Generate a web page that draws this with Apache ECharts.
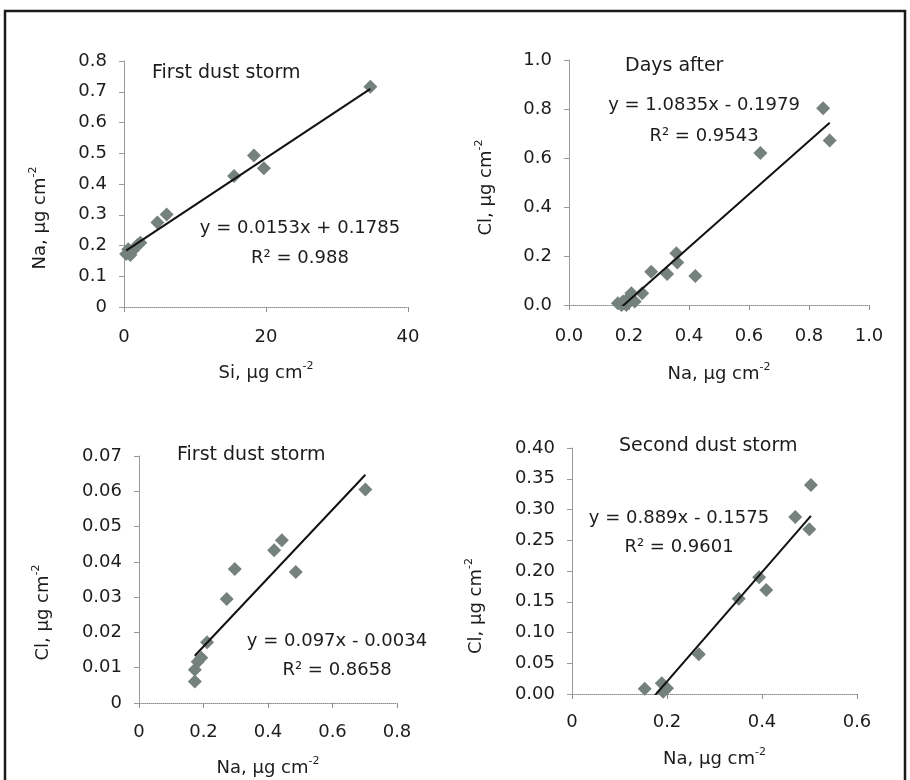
<!DOCTYPE html>
<html>
<head>
<meta charset="utf-8">
<script src="https://cdn.jsdelivr.net/npm/echarts@6/dist/echarts.min.js"></script>
<style>
  html, body { margin: 0; padding: 0; background: #fff; }
  #chart { width: 910px; height: 780px; }
</style>
</head>
<body>
<div id="chart"></div>
<script>
// ---- Panel 1: first dust storm, Na vs Si ----
const siFirst  = [0.3, 0.6, 0.9, 1.3, 1.9, 2.3, 4.7, 6.0, 15.5, 18.3, 19.7, 34.7];
const naVsSi   = [0.172, 0.188, 0.169, 0.185, 0.202, 0.209, 0.275, 0.301, 0.426, 0.493, 0.451, 0.716];

// ---- Panel 2: days after, Cl vs Na ----
const naDays   = [0.163, 0.175, 0.180, 0.191, 0.197, 0.208, 0.219, 0.244, 0.274, 0.327, 0.358, 0.361, 0.421, 0.638, 0.847, 0.869];
const clDays   = [0.007, 0.000, 0.014, 0.000, 0.027, 0.048, 0.014, 0.048, 0.136, 0.127, 0.211, 0.173, 0.118, 0.620, 0.803, 0.671];

// ---- Panel 3: first dust storm, Cl vs Na ----
const naFirst  = [0.173, 0.173, 0.182, 0.193, 0.211, 0.272, 0.297, 0.419, 0.443, 0.486, 0.702];
const clFirst  = [0.0061, 0.0094, 0.0117, 0.0128, 0.0172, 0.0295, 0.0380, 0.0433, 0.0461, 0.0371, 0.0605];

// ---- Panel 4: second dust storm, Cl vs Na ----
const naSecond = [0.153, 0.189, 0.192, 0.200, 0.267, 0.351, 0.394, 0.409, 0.470, 0.4996, 0.503];
const clSecond = [0.0087, 0.0174, 0.0037, 0.0093, 0.0646, 0.155, 0.190, 0.169, 0.288, 0.268, 0.340];

// Linear fits (slope, intercept, R²), one per panel
const fitSlopes     = [0.0153, 1.0835, 0.097, 0.889];
const fitIntercepts = [0.1785, -0.1979, -0.0034, -0.1575];
const fitSlopeText  = ['0.0153', '1.0835', '0.097', '0.889'];
const fitInterText  = ['+ 0.1785', '- 0.1979', '- 0.0034', '- 0.1575'];
const fitR2Text     = ['0.988', '0.9543', '0.8658', '0.9601'];

const panelTitles = ['First dust storm', 'Days after', 'First dust storm', 'Second dust storm'];

// Tick labels per axis
const xTicks1 = ['0', '20', '40'];
const yTicks1 = ['0', '0.1', '0.2', '0.3', '0.4', '0.5', '0.6', '0.7', '0.8'];
const xTicks2 = ['0.0', '0.2', '0.4', '0.6', '0.8', '1.0'];
const yTicks2 = ['0.0', '0.2', '0.4', '0.6', '0.8', '1.0'];
const xTicks3 = ['0', '0.2', '0.4', '0.6', '0.8'];
const yTicks3 = ['0', '0.01', '0.02', '0.03', '0.04', '0.05', '0.06', '0.07'];
const xTicks4 = ['0', '0.2', '0.4', '0.6'];
const yTicks4 = ['0.00', '0.05', '0.10', '0.15', '0.20', '0.25', '0.30', '0.35', '0.40'];

const FONT = 'DejaVu Sans';
const INK = '#1c1c1c';
const MARK = '#75817d';

const chart = echarts.init(document.getElementById('chart'), null, { renderer: 'canvas' });

const unitRich = {
  b: { fontSize: 18, fontFamily: FONT, color: INK, lineHeight: 24 },
  s: { fontSize: 11, fontFamily: FONT, color: INK, verticalAlign: 'top' }
};
function unitName(el) { return '{b|' + el + ', \u03bcg cm}{s|-2}'; }

function tickFormatter(labels, min, step) {
  return v => {
    const i = Math.round((v - min) / step);
    return labels[i] !== undefined ? labels[i] : '';
  };
}

function xAxisCfg(idx, max, step, labels, elName, nameGap, margin) {
  return {
    type: 'value', gridIndex: idx, min: 0, max: max, interval: step,
    axisLine: { show: true, onZero: false, lineStyle: { color: '#8c8c8c', width: 1, type: 'dotted' } },
    axisTick: { show: true, inside: false, length: 5, lineStyle: { color: '#8c8c8c' } },
    splitLine: { show: false },
    axisLabel: { fontSize: 18, fontFamily: FONT, color: INK, margin: margin,
                 formatter: tickFormatter(labels, 0, step) },
    name: unitName(elName), nameLocation: 'middle', nameGap: nameGap,
    nameTextStyle: { rich: unitRich }
  };
}

function yAxisCfg(idx, max, step, labels, elName, nameGap, shift) {
  return {
    type: 'value', gridIndex: idx, min: 0, max: max, interval: step,
    axisLine: { show: true, onZero: false, lineStyle: { color: '#9a9a9a', width: 1 } },
    axisTick: { show: true, inside: false, length: 5, lineStyle: { color: '#9a9a9a' } },
    splitLine: { show: false },
    axisLabel: { fontSize: 18, fontFamily: FONT, color: INK, margin: 17,
                 formatter: tickFormatter(labels, 0, step) },
    name: unitName(elName), nameLocation: 'middle', nameGap: nameGap,
    nameTextStyle: { rich: unitRich, padding: [0, shift, 0, 0] }
  };
}

function pairs(xs, ys) { return xs.map((x, i) => [x, ys[i]]); }

function fitLine(xs, k) {
  const x0 = Math.min.apply(null, xs), x1 = Math.max.apply(null, xs);
  return [[x0, fitSlopes[k] * x0 + fitIntercepts[k]], [x1, fitSlopes[k] * x1 + fitIntercepts[k]]];
}

const panelX = [siFirst, naDays, naFirst, naSecond];
const panelY = [naVsSi, clDays, clFirst, clSecond];

const series = [];
for (let k = 0; k < 4; k++) {
  series.push({
    type: 'line', xAxisIndex: k, yAxisIndex: k, data: fitLine(panelX[k], k),
    showSymbol: false, symbol: 'none', silent: true, z: 3,
    lineStyle: { color: '#111', width: 2 }
  });
  series.push({
    type: 'scatter', xAxisIndex: k, yAxisIndex: k, data: pairs(panelX[k], panelY[k]),
    symbol: 'diamond', symbolSize: 14, z: 2,
    itemStyle: { color: MARK, opacity: 1 }
  });
}

// Text blocks: panel titles and fit equations
const titlePos = [[152, 73, 'left'], [625, 66, 'left'], [177, 455, 'left'], [619, 446, 'left']];
const eqPos = [[300, 228, 258], [704, 105, 136], [337, 641, 670], [679, 518, 547]];

const graphics = [{
  type: 'rect', z: 0, silent: true,
  shape: { x: 5, y: 11, width: 900, height: 800 },
  style: { fill: 'none', stroke: '#1a1a1a', lineWidth: 2.5 }
}];
for (let k = 0; k < 4; k++) {
  graphics.push({
    type: 'text', z: 10, silent: true,
    style: { text: panelTitles[k], x: titlePos[k][0], y: titlePos[k][1],
             textAlign: titlePos[k][2], textVerticalAlign: 'middle',
             font: '19px "' + FONT + '"', fill: INK }
  });
  graphics.push({
    type: 'text', z: 10, silent: true,
    style: { text: 'y = ' + fitSlopeText[k] + 'x ' + fitInterText[k],
             x: eqPos[k][0], y: eqPos[k][1], textAlign: 'center', textVerticalAlign: 'middle',
             font: '18px "' + FONT + '"', fill: INK }
  });
  graphics.push({
    type: 'text', z: 10, silent: true,
    style: { text: 'R\u00b2 = ' + fitR2Text[k],
             x: eqPos[k][0], y: eqPos[k][2], textAlign: 'center', textVerticalAlign: 'middle',
             font: '18px "' + FONT + '"', fill: INK }
  });
}

chart.setOption({
  backgroundColor: '#ffffff',
  animation: false,
  grid: [
    { left: 124, top: 61, width: 284, height: 246 },
    { left: 569, top: 60, width: 300, height: 245 },
    { left: 139, top: 456, width: 258, height: 247 },
    { left: 572, top: 448, width: 285, height: 246 }
  ],
  xAxis: [
    xAxisCfg(0, 40, 20, xTicks1, 'Si', 54, 21),
    xAxisCfg(1, 1.0, 0.2, xTicks2, 'Na', 57, 22),
    xAxisCfg(2, 0.8, 0.2, xTicks3, 'Na', 53, 20),
    xAxisCfg(3, 0.6, 0.2, xTicks4, 'Na', 53, 19)
  ],
  yAxis: [
    yAxisCfg(0, 0.8, 0.1, yTicks1, 'Na', 72, 68),
    yAxisCfg(1, 1.0, 0.2, yTicks2, 'Cl', 71, 10),
    yAxisCfg(2, 0.07, 0.01, yTicks3, 'Cl', 84, 66),
    yAxisCfg(3, 0.40, 0.05, yTicks4, 'Cl', 84, 70)
  ],
  series: series,
  graphic: graphics
});
</script>
</body>
</html>
